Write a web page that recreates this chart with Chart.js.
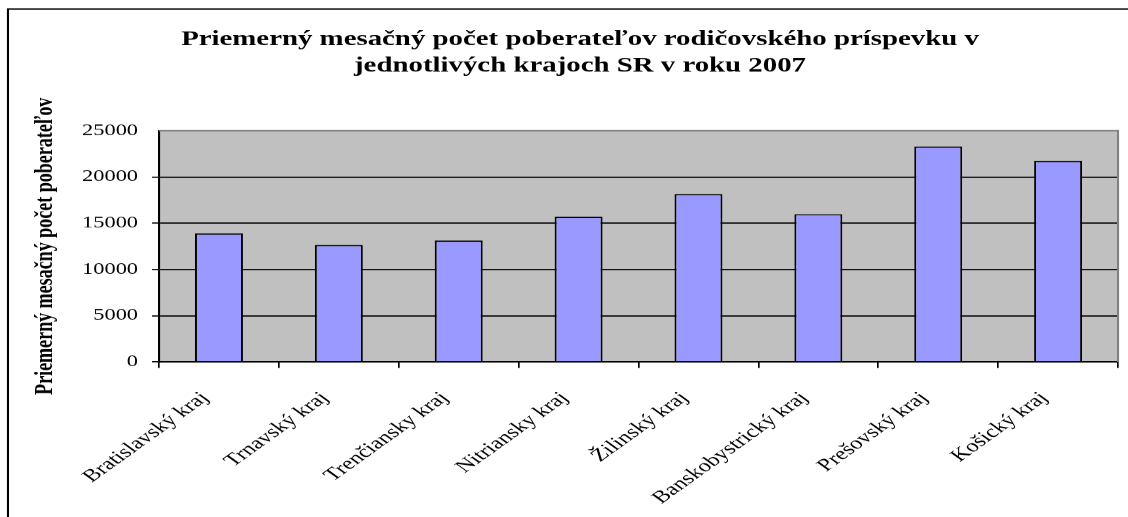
<!DOCTYPE html>
<html>
<head>
<meta charset="utf-8">
<script src="https://cdn.jsdelivr.net/npm/chart.js@4.4.1/dist/chart.umd.min.js"></script>
<style>
  html, body { margin: 0; padding: 0; background: #fff; overflow: hidden; }
  #wrap { position: absolute; left: 0; top: 0; width: 806px; height: 517px; transform: scaleX(1.3995); transform-origin: 0 0; }
</style>
</head>
<body>
<div id="wrap"><canvas id="c"></canvas></div>
<script>
const categories = ['Bratislavský kraj', 'Trnavský kraj', 'Trenčiansky kraj', 'Nitriansky kraj', 'Žilinský kraj', 'Banskobystrický kraj', 'Prešovský kraj', 'Košický kraj'];
const recipients = [13900, 12650, 13130, 15700, 18150, 15980, 23300, 21750];
const titleLines = ['Priemerný mesačný počet poberateľov rodičovského príspevku v', 'jednotlivých krajoch SR v roku 2007'];
const yAxisTitle = 'Priemerný mesačný počet poberateľov';
const yMin = 0, yMax = 25000, yStep = 5000;

const SERIF = "'Liberation Serif', 'Times New Roman', serif";

const framePlugin = {
  id: 'frame',
  beforeDraw(chart) {
    const ctx = chart.ctx, a = chart.chartArea;
    ctx.save();
    ctx.fillStyle = '#ffffff';
    ctx.fillRect(0, 0, chart.width, chart.height);
    ctx.strokeStyle = '#000000';
    ctx.lineWidth = 1.5;
    ctx.strokeRect(5.7, 9, chart.width + 20, chart.height + 20);
    ctx.fillStyle = '#c0c0c0';
    ctx.fillRect(a.left, a.top, a.right - a.left, a.bottom - a.top);
    ctx.restore();
  },
  afterDatasetsDraw(chart) {
    const ctx = chart.ctx, a = chart.chartArea;
    ctx.save();
    ctx.strokeStyle = '#808080';
    ctx.lineWidth = 1.5;
    ctx.beginPath();
    ctx.moveTo(a.left, a.top);
    ctx.lineTo(a.right, a.top);
    ctx.lineTo(a.right, a.bottom);
    ctx.stroke();
    ctx.restore();
  }
};

new Chart(document.getElementById('c'), {
  type: 'bar',
  data: {
    labels: categories,
    datasets: [{
      data: recipients,
      backgroundColor: '#9999ff',
      borderColor: '#000000',
      borderWidth: 1.4,
      barPercentage: 0.4,
      categoryPercentage: 1.0
    }]
  },
  plugins: [framePlugin],
  options: {
    responsive: true,
    maintainAspectRatio: false,
    animation: false,
    devicePixelRatio: 1.4,
    layout: { padding: { left: 30, right: 7.4, top: 27, bottom: 0 } },
    plugins: {
      legend: { display: false },
      tooltip: { enabled: false },
      title: {
        display: true,
        text: titleLines,
        color: '#000000',
        font: { family: SERIF, size: 20.6, weight: 'bold', lineHeight: 1.262 },
        padding: { top: 0, bottom: 51.5 }
      }
    },
    scales: {
      x: {
        offset: true,
        grid: { display: true, drawOnChartArea: false, drawTicks: true, tickLength: 6, color: '#000000', lineWidth: 1.2, offset: true },
        border: { display: true, color: '#000000', width: 1.5 },
        ticks: {
          color: '#000000',
          font: { family: SERIF, size: 17.5 },
          minRotation: 45,
          maxRotation: 45,
          autoSkip: false,
          padding: 20,
          labelOffset: -10
        },
        afterFit(scale) { scale.height = 155.5; }
      },
      y: {
        min: yMin,
        max: yMax,
        ticks: {
          stepSize: yStep,
          color: '#000000',
          font: { family: SERIF, size: 16 },
          padding: 10,
          callback: (v) => String(v)
        },
        grid: {
          color: (c) => (c.tick && c.tick.value === yMax ? 'rgba(0,0,0,0)' : '#000000'),
          lineWidth: 1.2,
          drawTicks: true,
          tickLength: 5
        },
        border: { display: true, color: '#000000', width: 1.5 },
        title: {
          display: true,
          text: yAxisTitle,
          color: '#000000',
          font: { family: SERIF, size: 18, weight: 'bold' },
          padding: { top: -8, bottom: 0 }
        },
        afterFit(scale) { scale.width = 83.6; }
      }
    }
  }
});
</script>
</body>
</html>
